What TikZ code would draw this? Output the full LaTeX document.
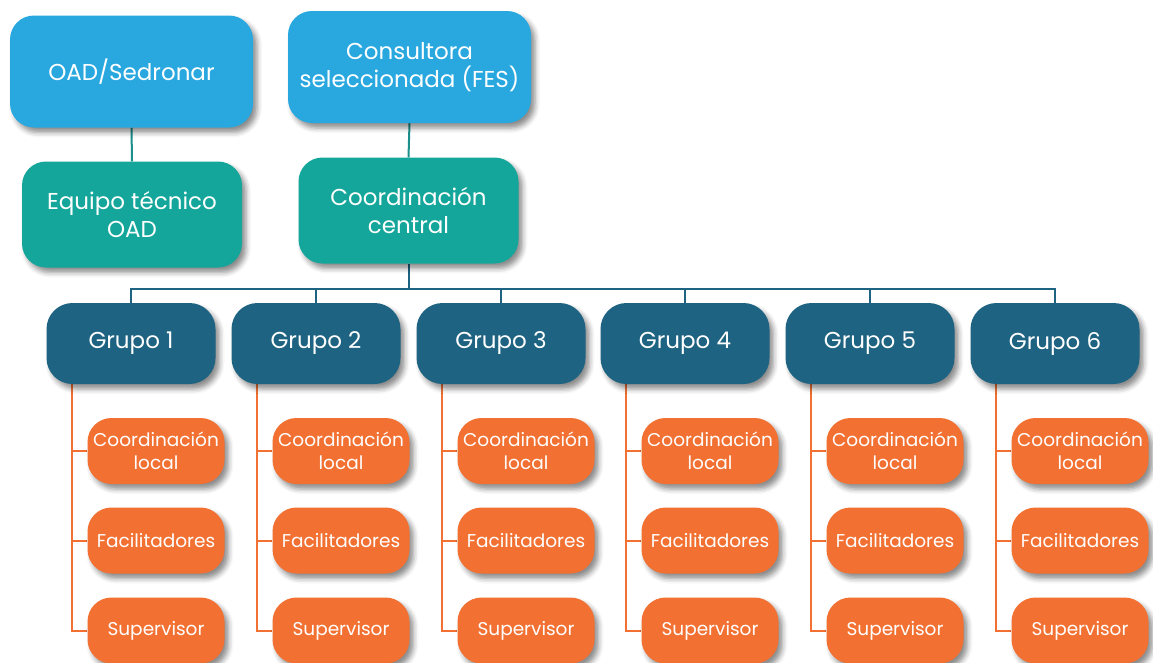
\documentclass[tikz,border=0pt]{standalone}
\usepackage{fontspec}
\setmainfont{Poppins}
\usetikzlibrary{shadows.blur,backgrounds}
\definecolor{cblue}{HTML}{29A8E0}
\definecolor{cteal}{HTML}{14A69A}
\definecolor{cdark}{HTML}{1E6381}
\definecolor{corange}{HTML}{F27132}
\definecolor{lteal}{HTML}{1A8F8C}
\begin{document}
\begin{tikzpicture}[x=1pt,y=-1pt,
  box/.style={rounded corners=24pt, text=white, align=center, inner sep=0pt,
    blur shadow={shadow xshift=4pt, shadow yshift=-5pt, shadow blur radius=5pt, shadow opacity=45}},
  topbox/.style={box, fill=cblue, minimum width=243pt, minimum height=112pt, font=\fontsize{23}{28}\selectfont},
  midbox/.style={box, fill=cteal, minimum width=220pt, minimum height=106pt, font=\fontsize{23}{28}\selectfont},
  grpbox/.style={box, fill=cdark, minimum width=169pt, minimum height=81pt, rounded corners=26pt, font=\fontsize{23}{28}\selectfont},
  subbox/.style={box, fill=corange, minimum width=137pt, minimum height=66pt, rounded corners=24pt, font=\fontsize{18.5}{23}\selectfont},
  tline/.style={draw=lteal, line width=2pt},
  bline/.style={draw=cdark, line width=2pt},
  oline/.style={draw=corange, line width=2pt}
]
\useasboundingbox (0,0) rectangle (1153,662);
\node[topbox] (oad) at (131.5,71.5) {OAD/Sedronar};
\node[topbox] (cons) at (409.5,67) {Consultora\\seleccionada (FES)};
\node[midbox] (eq) at (132,214.5) {Equipo técnico\\OAD};
\node[midbox] (cc) at (408.5,210.5) {Coordinación\\central};
\coordinate (bus) at (0,289);
\foreach \i/\x in {1/131,2/316,3/501,4/685,5/870,6/1055}{
  \node[grpbox] (g\i) at (\x,343.5) {Grupo \i};
  \node[subbox] (cl\i) at (\x+25,451) {Coordinación\\local};
  \node[subbox] (fa\i) at (\x+25,540.5) {Facilitadores};
  \node[subbox] (su\i) at (\x+25,630.5) {Supervisor};
  \coordinate (t\i) at (\x-59,384);
}
\begin{scope}[on background layer]
\draw[tline] (oad.south) -- (eq.north);
\draw[tline] (cons.south) -- (cc.north);
\draw[bline] (cc.south) -- (cc.south |- bus);
\draw[bline] (g1.north) |- (g6.north |- bus) -- (g6.north);
\foreach \i in {2,3,4,5}{
  \draw[bline] (g\i.north) -- (g\i.north |- bus);
}
\foreach \i in {1,...,6}{
  \draw[oline] (t\i) |- (su\i.west);
  \draw[oline] (t\i |- cl\i.west) -- (cl\i.west);
  \draw[oline] (t\i |- fa\i.west) -- (fa\i.west);
}
\end{scope}
\end{tikzpicture}
\end{document}
